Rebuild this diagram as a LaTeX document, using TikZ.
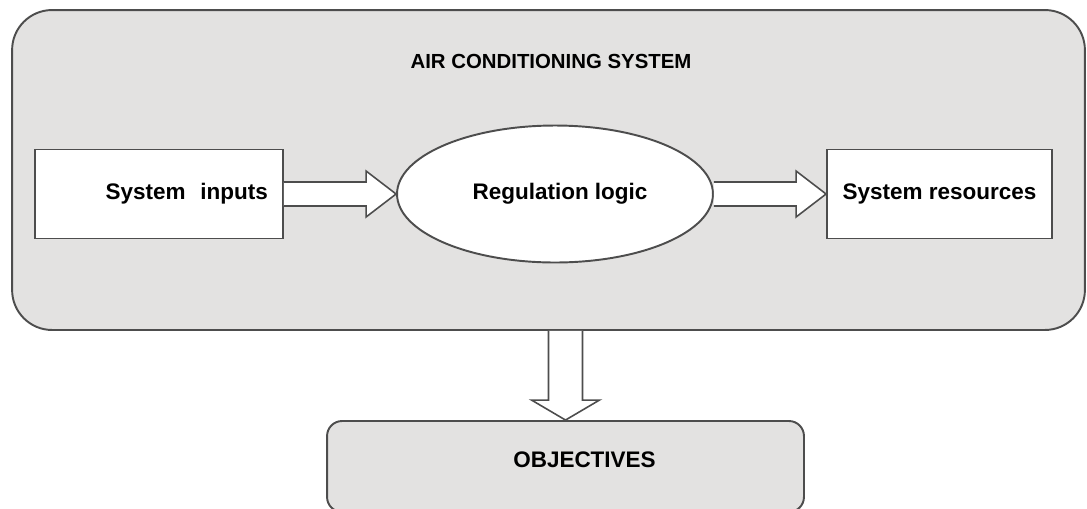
\documentclass[tikz,border=0pt]{standalone}
\usepackage{fontspec}
\setmainfont{Liberation Sans}
\usepackage{xcolor}
\usetikzlibrary{calc,shapes.geometric}

\begin{document}
\begin{tikzpicture}[x=0.02cm,y=-0.02cm,
  mybox/.style={draw=edge,line width=1.1pt,fill=white,inner sep=0pt},
  myarrow/.style={draw=edge,line width=0.9pt,fill=white,line join=miter},
  mytext/.style={font=\fontsize{12.8}{15}\selectfont\bfseries}]
\definecolor{panel}{HTML}{E3E2E1}
\definecolor{edge}{HTML}{4D4D4D}
\useasboundingbox (0,0) rectangle (1087,508);
\node [mybox,fill=panel,rounded corners=0.8cm,minimum width=21.46cm,minimum height=6.4cm] (outer) at (548.5,170) {};
\node [font=\fontsize{11.6}{13}\selectfont\bfseries] (title) at (551,61) {AIR CONDITIONING SYSTEM};
\node [mybox,mytext,minimum height=1.78cm,text width=4.36cm,inner xsep=0.3cm,align=right] (inputs) at (159,194) {System\ \ inputs};
\node [mybox,mytext,ellipse,minimum width=6.32cm,minimum height=2.74cm] (logic) at (555,194) {\hspace*{0.2cm}Regulation logic};
\node [mybox,mytext,minimum width=4.5cm,minimum height=1.78cm] (resources) at (939.5,194) {System resources};
\node [mybox,fill=panel,rounded corners=0.3cm,minimum width=9.54cm,minimum height=1.82cm,
  label={[mytext,xshift=0.38cm,yshift=0.13cm]center:OBJECTIVES}] (obj) at (565.5,466.5) {};
\foreach \a/\b in {inputs/logic,logic/resources}
  \draw[myarrow] ($(\a.east)+(0,-12)$) -- ($(\b.west)+(-30,-12)$) -- ($(\b.west)+(-30,-23)$) -- (\b.west)
    -- ($(\b.west)+(-30,23)$) -- ($(\b.west)+(-30,12)$) -- ($(\a.east)+(0,12)$);
\draw[myarrow] ($(outer.south -| obj.north)+(-17,0)$) -- ($(obj.north)+(-17,-20)$) -- ($(obj.north)+(-34,-20)$) -- (obj.north)
  -- ($(obj.north)+(34,-20)$) -- ($(obj.north)+(17,-20)$) -- ($(outer.south -| obj.north)+(17,0)$);
\end{tikzpicture}
\end{document}
